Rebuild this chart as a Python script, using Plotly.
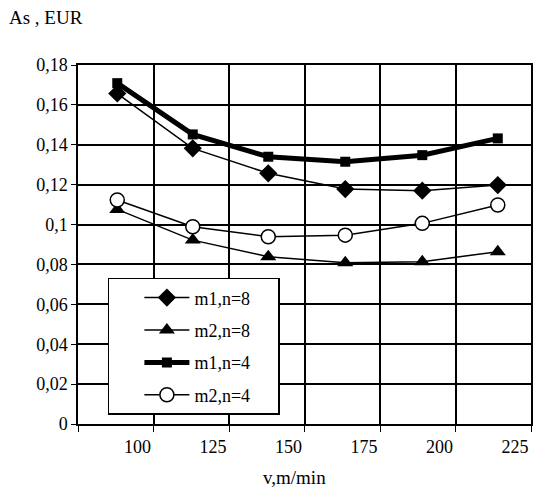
import plotly.graph_objects as go

x_vals = [88, 113, 138, 163.5, 189, 214]
m1_n8 = [0.1657, 0.1382, 0.1257, 0.1178, 0.1170, 0.1198]
m2_n8 = [0.1076, 0.0922, 0.0839, 0.0809, 0.0814, 0.0864]
m1_n4 = [0.1709, 0.1452, 0.1340, 0.1315, 0.1348, 0.1432]
m2_n4 = [0.1123, 0.0989, 0.0939, 0.0947, 0.1006, 0.1098]

series_names = ["m1,n=8", "m2,n=8", "m1,n=4", "m2,n=4"]

x_ticks = [75, 100, 125, 150, 175, 200, 225]
x_tick_text = ["", "100", "125", "150", "175", "200", "225"]
y_ticks = [0, 0.02, 0.04, 0.06, 0.08, 0.10, 0.12, 0.14, 0.16, 0.18]
y_tick_text = ["0", "0,02", "0,04", "0,06", "0,08", "0,1", "0,12", "0,14", "0,16", "0,18"]

FONT = "Liberation Serif"
tick_font = dict(family=FONT, size=18, color="black")
PAD = "\u00a0" * 5

fig = go.Figure()
fig.add_trace(go.Scatter(x=x_vals, y=m1_n8, name=series_names[0] + PAD, mode="lines+markers",
                         line=dict(color="black", width=1.5),
                         marker=dict(symbol="diamond", size=14, color="black"),
                         legendgroup="a"))
fig.add_trace(go.Scatter(x=x_vals, y=m2_n8, name=series_names[1] + PAD, mode="lines+markers",
                         line=dict(color="black", width=1.5),
                         marker=dict(symbol="triangle-up", size=14, color="black"),
                         legendgroup="b"))
fig.add_trace(go.Scatter(x=x_vals, y=m1_n4, name=series_names[2] + PAD, mode="lines+markers",
                         line=dict(color="black", width=5),
                         marker=dict(symbol="square", size=10, color="black"),
                         legendgroup="c"))
fig.add_trace(go.Scatter(x=x_vals, y=m2_n4, name=series_names[3] + PAD, mode="lines+markers",
                         line=dict(color="black", width=1.5),
                         marker=dict(symbol="circle", size=14, color="white",
                                     line=dict(color="black", width=1.5)),
                         legendgroup="d"))

fig.update_layout(
    width=534, height=487,
    margin=dict(l=78, r=1, t=65, b=63),
    paper_bgcolor="white", plot_bgcolor="white",
    font=dict(family=FONT, size=17, color="black"),
    showlegend=True,
    legend=dict(x=0.066, y=0.407, xanchor="left", yanchor="top",
                bordercolor="black", borderwidth=1.5, bgcolor="white",
                font=dict(family=FONT, size=18, color="black"), tracegroupgap=6,
                indentation=30, itemwidth=45),
    xaxis=dict(range=[75, 225], tickvals=x_ticks, ticktext=x_tick_text,
               tickfont=tick_font,
               showgrid=True, gridcolor="black", gridwidth=1.5,
               showline=True, linecolor="black", linewidth=1.5, mirror=True,
               ticks="outside", ticklen=6, tickcolor="black",
               ticklabelshift=-16, zeroline=False),
    yaxis=dict(range=[0, 0.18], tickvals=y_ticks, ticktext=y_tick_text,
               tickfont=tick_font,
               showgrid=True, gridcolor="black", gridwidth=1.5,
               showline=True, linecolor="black", linewidth=1.5, mirror=True,
               ticks="outside", ticklen=5, tickcolor="black", zeroline=False),
)
fig.add_annotation(text="As , EUR", xref="paper", yref="paper",
                   x=(7 - 78) / 455, y=(424 - 18) / 359, xanchor="left", yanchor="middle",
                   showarrow=False, font=dict(family=FONT, size=19, color="black"))
fig.add_annotation(text="v,m/min", xref="paper", yref="paper",
                   x=(295 - 78) / 455, y=(424 - 477) / 359, xanchor="center", yanchor="middle",
                   showarrow=False, font=dict(family=FONT, size=19, color="black"))

fig.write_html("out.html", config={"displayModeBar": False},
               post_script="document.body.style.margin='0';document.body.style.padding='0';")
